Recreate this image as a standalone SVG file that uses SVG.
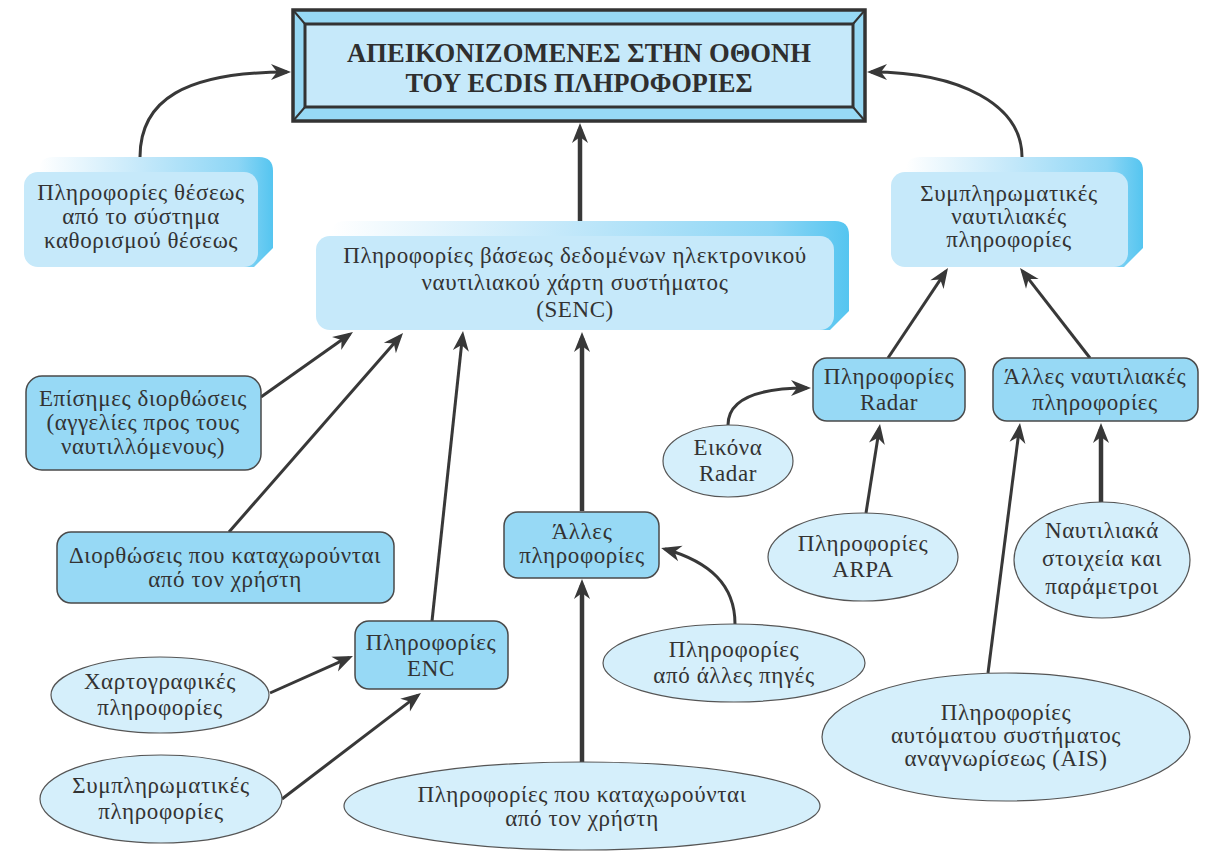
<svg xmlns="http://www.w3.org/2000/svg" width="1216" height="863" viewBox="0 0 1216 863">
<style>
.t{font-family:"Liberation Serif","DejaVu Serif",serif;font-size:23px;letter-spacing:0.6px;fill:#333;text-anchor:middle}
.h{font-family:"Liberation Serif","DejaVu Serif",serif;font-size:27px;font-weight:bold;fill:#2f2f2f;text-anchor:middle}
.box{fill:#97d9f5;stroke:#4a4a4a;stroke-width:1.5}
.ell{fill:#d5effb;stroke:#555;stroke-width:1.2}
.front{fill:#c6e9fa}
.back{fill:url(#bg)}
.c{fill:none;stroke:#383838;stroke-width:3;marker-end:url(#ah)}
.k{fill:none;stroke:#383838;stroke-width:4.5;marker-end:url(#ahk)}
</style>
<defs>
<linearGradient id="bg" x1="0" y1="0" x2="1" y2="0">
<stop offset="0" stop-color="#ffffff"/>
<stop offset="0.45" stop-color="#c3e8fa"/>
<stop offset="0.85" stop-color="#8dd6f5"/>
<stop offset="1" stop-color="#55c5f0"/>
</linearGradient>
<marker id="ah" viewBox="-17 -9 22 18" refX="0" refY="0" markerWidth="22" markerHeight="18" markerUnits="userSpaceOnUse" orient="auto">
<path d="M4,0 L-16,-8 L-10,0 L-16,8 Z" fill="#383838"/>
</marker>
<marker id="ahk" viewBox="-15 -9 22 18" refX="0" refY="0" markerWidth="22" markerHeight="18" markerUnits="userSpaceOnUse" orient="auto">
<path d="M6,0 L-14,-8 L-8,0 L-14,8 Z" fill="#383838"/>
</marker>
</defs>
<rect width="1216" height="863" fill="#ffffff"/>

<g id="connectors">
<path class="c" d="M140,157 C140,100 185,72 287,72"/>
<path class="c" d="M1022,157 C1022,105 960,72 871,72"/>
<path class="k" d="M580,221 L580,129"/>
<path class="c" d="M261,397 L349.7,334.3"/>
<path class="c" d="M229,532 L400.4,336"/>
<path class="c" d="M432,621 L462.6,335"/>
<path class="k" d="M582,511 L582,338"/>
<path class="c" d="M888,358 L945.8,271.3"/>
<path class="c" d="M1090,358 L1022.5,271.2"/>
<path class="c" d="M728,425 C728,400 755,388 807,388"/>
<path class="c" d="M866,513 L879.4,428"/>
<path class="c" d="M988,673 L1019.5,427"/>
<path class="k" d="M1101,502 L1101,429"/>
<path class="c" d="M735,624 C735,585 710,562 665,549"/>
<path class="c" d="M270,693 L349.3,657.6"/>
<path class="c" d="M282,799 L417.8,695.4"/>
<path class="k" d="M582,762 L582,585"/>
</g>

<g id="ecdis">
<rect x="293" y="10" width="572" height="111" fill="#97d9f5" stroke="#333" stroke-width="3.5"/>
<rect x="305" y="24" width="548" height="83" fill="#c6e9fa" stroke="#333" stroke-width="3"/>
<path d="M293,10 L305,24 M865,10 L853,24 M293,121 L305,107 M865,121 L853,107" stroke="#333" stroke-width="2"/>
<text class="h" x="579" y="62" textLength="464" lengthAdjust="spacingAndGlyphs">ΑΠΕΙΚΟΝΙΖΟΜΕΝΕΣ ΣΤΗΝ ΟΘΟΝΗ</text>
<text class="h" x="579" y="92" textLength="347" lengthAdjust="spacingAndGlyphs">ΤΟΥ ECDIS ΠΛΗΡΟΦΟΡΙΕΣ</text>
</g>

<g id="position">
<path class="back" d="M39,171 Q39,157 53,157 H259 Q273,157 273,171 V248 L254,267 H39 Z"/>
<rect class="front" x="24" y="172" width="234" height="95" rx="14"/>
<text class="t" x="141" y="200">Πληροφορίες θέσεως</text>
<text class="t" x="141" y="224">από το σύστημα</text>
<text class="t" x="141" y="248">καθορισμού θέσεως</text>
</g>

<g id="senc">
<path class="back" d="M331,235 Q331,221 345,221 H835 Q849,221 849,235 V311 L830,330 H331 Z"/>
<rect class="front" x="316" y="236" width="518" height="94" rx="14"/>
<text class="t" x="575" y="263">Πληροφορίες βάσεως δεδομένων ηλεκτρονικού</text>
<text class="t" x="575" y="290">ναυτιλιακού χάρτη συστήματος</text>
<text class="t" x="575" y="317">(SENC)</text>
</g>

<g id="supp-nav">
<path class="back" d="M906,171 Q906,157 920,157 H1129 Q1143,157 1143,171 V248 L1124,267 H906 Z"/>
<rect class="front" x="891" y="172" width="237" height="95" rx="14"/>
<text class="t" x="1009" y="201">Συμπληρωματικές</text>
<text class="t" x="1009" y="224">ναυτιλιακές</text>
<text class="t" x="1009" y="247">πληροφορίες</text>
</g>

<g id="official">
<rect class="box" x="26" y="376" width="235" height="94" rx="16"/>
<text class="t" x="143" y="406">Επίσημες διορθώσεις</text>
<text class="t" x="143" y="430">(αγγελίες προς τους</text>
<text class="t" x="143" y="454">ναυτιλλόμενους)</text>
</g>

<g id="user-corr">
<rect class="box" x="57" y="532" width="337" height="71" rx="14"/>
<text class="t" x="225" y="563">Διορθώσεις που καταχωρούνται</text>
<text class="t" x="225" y="587">από τον χρήστη</text>
</g>

<g id="enc">
<rect class="box" x="355" y="621" width="153" height="68" rx="14"/>
<text class="t" x="431" y="650">Πληροφορίες</text>
<text class="t" x="431" y="676">ENC</text>
</g>

<g id="other">
<rect class="box" x="504" y="512" width="155" height="66" rx="14"/>
<text class="t" x="582" y="539">Άλλες</text>
<text class="t" x="582" y="563">πληροφορίες</text>
</g>

<g id="radar">
<rect class="box" x="813" y="358" width="152" height="63" rx="14"/>
<text class="t" x="889" y="384">Πληροφορίες</text>
<text class="t" x="889" y="410">Radar</text>
</g>

<g id="other-nav">
<rect class="box" x="993" y="358" width="205" height="63" rx="14"/>
<text class="t" x="1095" y="384">Άλλες ναυτιλιακές</text>
<text class="t" x="1095" y="410">πληροφορίες</text>
</g>

<g id="radar-img">
<ellipse class="ell" cx="728" cy="461" rx="65" ry="36"/>
<text class="t" x="728" y="455">Εικόνα</text>
<text class="t" x="728" y="481">Radar</text>
</g>

<g id="arpa">
<ellipse class="ell" cx="863" cy="557" rx="95" ry="44"/>
<text class="t" x="863" y="551">Πληροφορίες</text>
<text class="t" x="863" y="577">ARPA</text>
</g>

<g id="nav-data">
<ellipse class="ell" cx="1102" cy="560" rx="88" ry="58"/>
<text class="t" x="1102" y="538">Ναυτιλιακά</text>
<text class="t" x="1102" y="566">στοιχεία και</text>
<text class="t" x="1102" y="594">παράμετροι</text>
</g>

<g id="other-src">
<ellipse class="ell" cx="734" cy="663" rx="131" ry="39"/>
<text class="t" x="734" y="657">Πληροφορίες</text>
<text class="t" x="734" y="683">από άλλες πηγές</text>
</g>

<g id="ais">
<ellipse class="ell" cx="1006" cy="737" rx="184" ry="64"/>
<text class="t" x="1006" y="720">Πληροφορίες</text>
<text class="t" x="1006" y="743">αυτόματου συστήματος</text>
<text class="t" x="1006" y="766">αναγνωρίσεως (AIS)</text>
</g>

<g id="carto">
<ellipse class="ell" cx="160" cy="695" rx="109" ry="38"/>
<text class="t" x="160" y="689">Χαρτογραφικές</text>
<text class="t" x="160" y="715">πληροφορίες</text>
</g>

<g id="supp">
<ellipse class="ell" cx="161" cy="799" rx="121" ry="44"/>
<text class="t" x="161" y="793">Συμπληρωματικές</text>
<text class="t" x="161" y="819">πληροφορίες</text>
</g>

<g id="user-info">
<ellipse class="ell" cx="582" cy="806" rx="238" ry="44"/>
<text class="t" x="582" y="802">Πληροφορίες που καταχωρούνται</text>
<text class="t" x="582" y="826">από τον χρήστη</text>
</g>
</svg>
